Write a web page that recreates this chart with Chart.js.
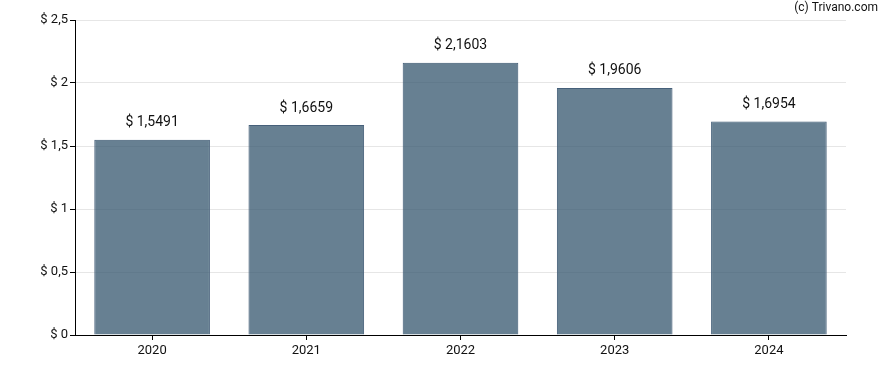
<!DOCTYPE html>
<html>
<head>
<meta charset="utf-8">
<script src="https://cdn.jsdelivr.net/npm/chart.js@4/dist/chart.umd.min.js"></script>
<style>
  html, body { margin: 0; padding: 0; background: #fff; }
  #wrap { width: 888px; height: 370px; }
</style>
</head>
<body>
<div id="wrap"><canvas id="chart"></canvas></div>
<script>
const years = ['2020', '2021', '2022', '2023', '2024'];
const values = [1.5491, 1.6659, 2.1603, 1.9606, 1.6954];
const yTicks = [0, 0.5, 1, 1.5, 2, 2.5];

const FONT = 'Roboto, "Liberation Sans", sans-serif';

function money(v, digits) {
  const s = digits == null ? String(v) : v.toFixed(digits);
  return `$ ${s.replace('.', ',')}`;
}

const valueLabels = {
  id: 'value-labels',
  afterDatasetsDraw(chart) {
    const { ctx } = chart;
    const meta = chart.getDatasetMeta(0);
    ctx.save();
    ctx.fillStyle = '#111';
    ctx.font = `14px ${FONT}`;
    ctx.textAlign = 'center';
    ctx.textBaseline = 'middle';
    meta.data.forEach((bar, i) => {
      ctx.fillText(money(values[i], 4), bar.x, bar.y - 17);
    });
    ctx.restore();
  },
};

const credit = {
  id: 'credit',
  afterDraw(chart) {
    const { ctx } = chart;
    ctx.save();
    ctx.fillStyle = '#111';
    ctx.font = `12px ${FONT}`;
    ctx.textAlign = 'right';
    ctx.textBaseline = 'middle';
    ctx.fillText('(c) Trivano.com', 878, 8);
    ctx.restore();
  },
};

new Chart(document.getElementById('chart').getContext('2d'), {
  type: 'bar',
  data: {
    labels: years,
    datasets: [{
      data: values,
      backgroundColor: 'rgba(52,86,110,0.75)',
      borderColor: '#46607a',
      borderWidth: 1,
      categoryPercentage: 0.75,
      barPercentage: 1,
    }],
  },
  options: {
    responsive: true,
    maintainAspectRatio: false,
    animation: false,
    layout: { padding: { top: 20, right: 42, left: 0, bottom: 0 } },
    plugins: {
      legend: { display: false },
      tooltip: { enabled: false },
    },
    scales: {
      x: {
        grid: { drawOnChartArea: false, offset: false, tickColor: '#000', tickLength: 5 },
        border: { color: '#000', width: 1 },
        ticks: { color: '#111', font: { family: FONT, size: 13 }, padding: 3 },
        afterFit(scale) { scale.height = 35; },
      },
      y: {
        min: 0,
        max: 2.5,
        afterBuildTicks(scale) { scale.ticks = yTicks.map(v => ({ value: v })); },
        grid: { color: '#e6e6e6', tickColor: '#000', tickLength: 5 },
        border: { color: '#000', width: 1 },
        ticks: {
          color: '#111',
          font: { family: FONT, size: 13 },
          padding: 2,
          callback: v => money(v),
        },
        afterFit(scale) { scale.width = 75; },
      },
    },
  },
  plugins: [valueLabels, credit],
});
</script>
</body>
</html>
